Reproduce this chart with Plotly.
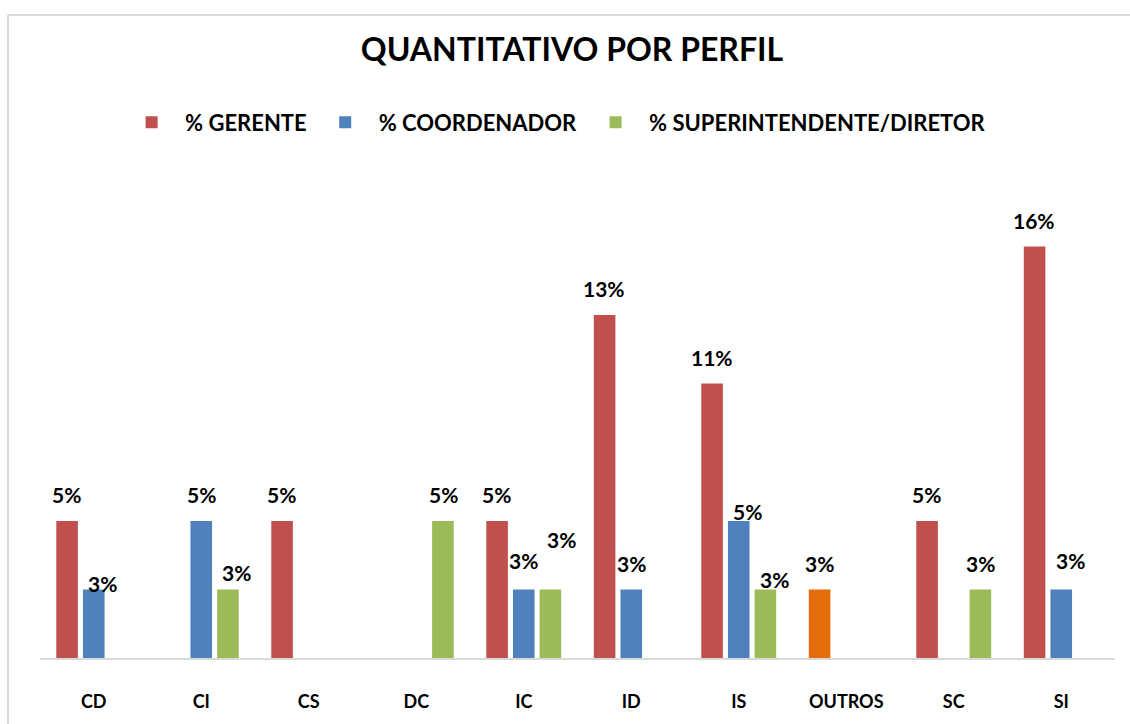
import plotly.graph_objects as go

categories = ["CD", "CI", "CS", "DC", "IC", "ID", "IS", "OUTROS", "SC", "SI"]
gerente = [5.26, None, 5.26, None, 5.26, 13.16, 10.53, 2.63, 5.26, 15.79]
coordenador = [2.63, 5.26, None, None, 2.63, 2.63, 5.26, None, None, 2.63]
superintendente = [None, 2.63, None, 5.26, 2.63, None, 2.63, None, 2.63, None]

series_names = ["% GERENTE", "% COORDENADOR", "% SUPERINTENDENTE/DIRETOR"]
series_values = [gerente, coordenador, superintendente]
series_colors = ["#C0504D", "#4F81BD", "#9BBB59"]
outros_color = "#E46C0A"

# label nudges (pixels) mimicking the reference's label placement: (series, category) -> (dx, dy)
label_nudges = {
    (1, "CD"): (9, -20), (2, "CI"): (8, -9), (1, "IC"): (0, 3),
    (2, "IC"): (11, 24), (1, "IS"): (9, -17), (2, "IS"): (9, -16),
    (1, "SI"): (9, 3),
}

fig = go.Figure()
for i, (name, vals, col) in enumerate(zip(series_names, series_values, series_colors)):
    colors = [outros_color if (i == 0 and c == "OUTROS") else col for c in categories]
    fig.add_trace(go.Bar(name=name, x=categories, y=vals, marker=dict(color=colors, line=dict(width=0))))

slot = 26.8
annotations = []
for i, vals in enumerate(series_values):
    for c, v in zip(categories, vals):
        if v is None:
            continue
        dx, dy = label_nudges.get((i, c), (0, 0))
        annotations.append(dict(
            x=c, y=v, xref="x", yref="y", text=f"{v:.0f}%", showarrow=False,
            xshift=(i - 1) * slot + dx, yshift=26 + dy, yanchor="middle",
            font=dict(family="Lato", size=21, color="#000000", weight="bold"),
        ))

px_per_pct = 139 / 5.26
border = dict(color="#D9D9D9", width=2)
fig.update_layout(
    width=1130, height=724,
    margin=dict(l=40, r=15, t=153, b=59),
    paper_bgcolor="white", plot_bgcolor="white",
    barmode="group", bargap=0.256, bargroupgap=0.19,
    title=dict(text="QUANTITATIVO POR PERFIL", x=572 / 1130, xanchor="center", y=1 - 50 / 724, yanchor="middle",
               font=dict(family="Lato", size=32, color="#000000", weight="bold")),
    legend=dict(orientation="h", x=0.4787, xanchor="center", y=1.0605, yanchor="middle",
                itemwidth=57,
                font=dict(family="Lato", size=22, color="#000000", weight="bold"),
                bgcolor="rgba(0,0,0,0)"),
    xaxis=dict(showline=True, linecolor="#D9D9D9", linewidth=2, showgrid=False,
               ticks="outside", ticklen=26, tickcolor="rgba(0,0,0,0)",
               tickfont=dict(family="Lato", size=18, color="#000000", weight="bold")),
    yaxis=dict(visible=False, range=[0, 512 / px_per_pct], showgrid=False, zeroline=False),
    annotations=annotations,
    shapes=[
        dict(type="line", xref="paper", yref="paper", x0=-0.0298, x1=1.05, y0=1.2735, y1=1.2735, line=border),
        dict(type="line", xref="paper", yref="paper", x0=-0.0298, x1=-0.0298, y0=-0.3, y1=1.2735, line=border),
    ],
    showlegend=True,
)

fig.write_html(
    "out.html",
    config={"displayModeBar": False},
    post_script="document.body.style.margin='0';document.body.style.overflow='hidden';",
)
